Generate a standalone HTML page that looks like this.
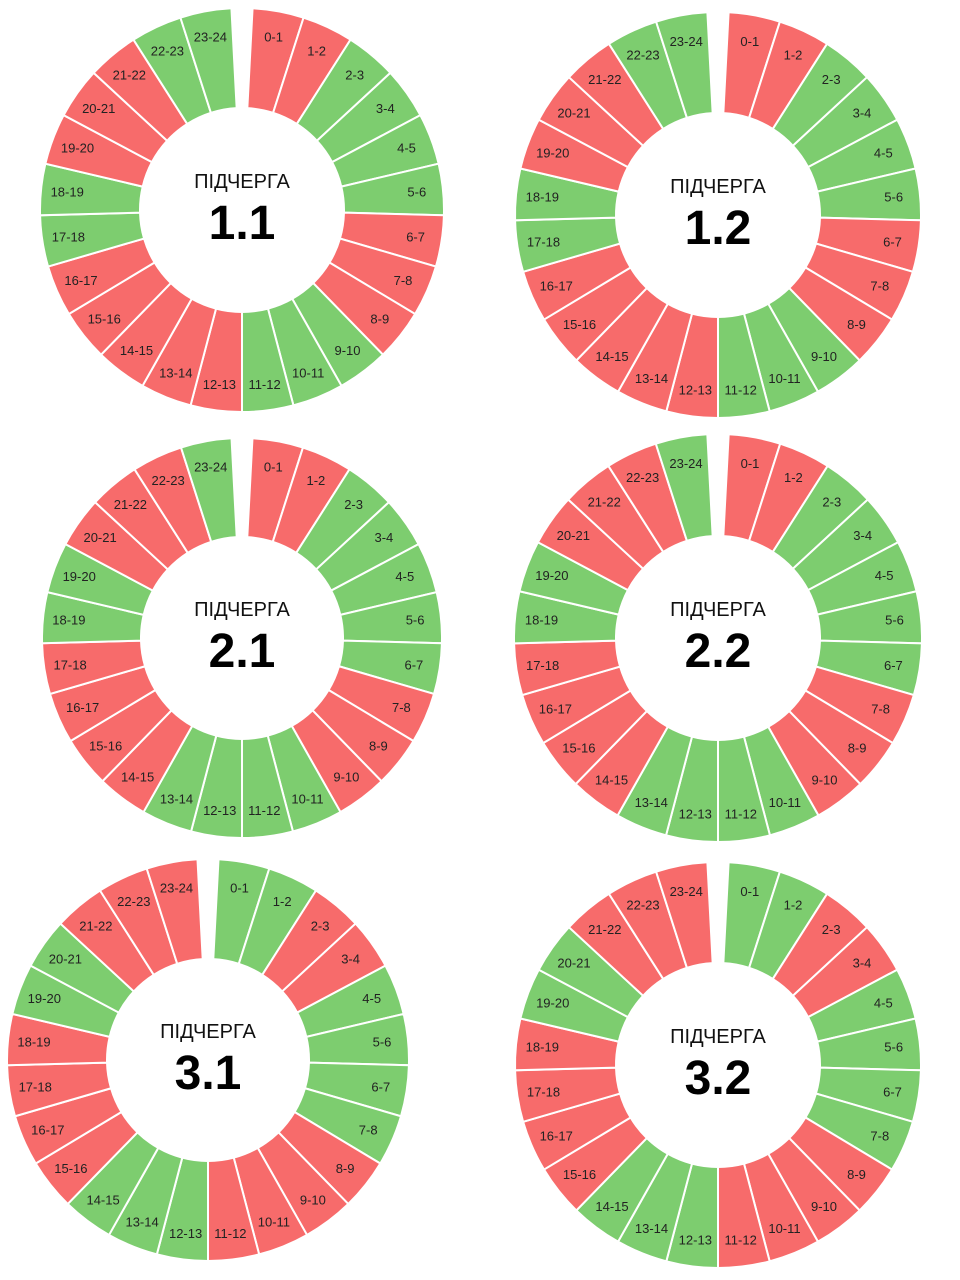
<!DOCTYPE html>
<html><head><meta charset="utf-8">
<style>
html,body{margin:0;padding:0;background:#fff;}
svg{display:block;}
</style></head>
<body>
<svg id="s" width="960" height="1280" viewBox="0 0 960 1280" xmlns="http://www.w3.org/2000/svg"></svg>
<script>
const R='#f76b6b',G='#7dcd6f';
const charts=[
 {cx:242,cy:210,ro:202,ri:102,name:'1.1',seq:'RRGGGGRRRGGGRRRRRGGRRRGG'},
 {cx:718,cy:215,ro:203,ri:102,name:'1.2',seq:'RRGGGGRRRGGGRRRRRGGRRRGG'},
 {cx:242,cy:638,ro:200,ri:101,name:'2.1',seq:'RRGGGGGRRRGGGGRRRRGGRRRG'},
 {cx:718,cy:638,ro:204,ri:102,name:'2.2',seq:'RRGGGGGRRRGGGGRRRRGGRRRG'},
 {cx:208,cy:1060,ro:201,ri:101,name:'3.1',seq:'GGRRGGGGRRRRGGGRRRRGGRRR'},
 {cx:718,cy:1065,ro:203,ri:102,name:'3.2',seq:'GGRRGGGGRRRRGGGRRRRGGRRR'}
];
let h='';
const gap=6,seg=(360-gap)/24;
function pt(cx,cy,r,a){const t=(a-90)*Math.PI/180;return [cx+r*Math.cos(t),cy+r*Math.sin(t)];}
for(const c of charts){
 for(let i=0;i<24;i++){
  const a0=gap/2+i*seg,a1=a0+seg;
  const p1=pt(c.cx,c.cy,c.ro,a0),p2=pt(c.cx,c.cy,c.ro,a1),p3=pt(c.cx,c.cy,c.ri,a1),p4=pt(c.cx,c.cy,c.ri,a0);
  const col=c.seq[i]=='R'?R:G;
  h+=`<path d="M${p1[0].toFixed(2)},${p1[1].toFixed(2)} A${c.ro},${c.ro} 0 0 1 ${p2[0].toFixed(2)},${p2[1].toFixed(2)} L${p3[0].toFixed(2)},${p3[1].toFixed(2)} A${c.ri},${c.ri} 0 0 0 ${p4[0].toFixed(2)},${p4[1].toFixed(2)} Z" fill="${col}" stroke="#fff" stroke-width="2"/>`;
  const lp=pt(c.cx,c.cy,c.ro*0.87,(a0+a1)/2);
  h+=`<text x="${lp[0].toFixed(1)}" y="${(lp[1]+4.5).toFixed(1)}" text-anchor="middle" font-family="Liberation Sans, sans-serif" font-size="13" fill="#222">${i}-${i+1}</text>`;
 }
 h+=`<text x="${c.cx}" y="${c.cy-22}" text-anchor="middle" font-family="Liberation Sans, DejaVu Sans, sans-serif" font-size="20" fill="#111">ПІДЧЕРГА</text>`;
 h+=`<text x="${c.cx}" y="${c.cy+29}" text-anchor="middle" font-family="Liberation Sans, sans-serif" font-size="48" font-weight="bold" fill="#000">${c.name}</text>`;
}
document.getElementById('s').innerHTML=h;
</script>
</body></html>
